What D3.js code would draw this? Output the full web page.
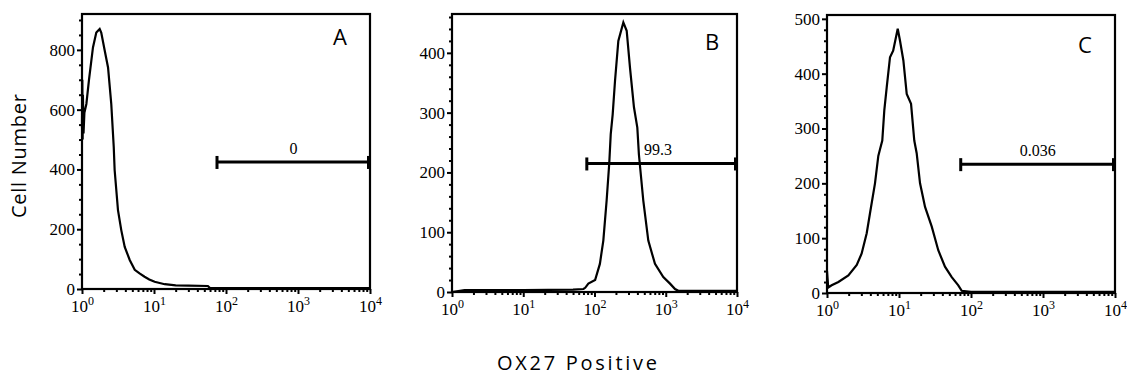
<!DOCTYPE html>
<html>
<head>
<meta charset="utf-8">
<script src="https://cdn.jsdelivr.net/npm/d3@7"></script>
<style>
  body { margin: 0; background: #fff; }
  svg { display: block; }
</style>
</head>
<body>
<svg id="chart" width="1127" height="378"></svg>
<script>
// fluorescence (log) positions and cell counts
const aX = [1.0, 1.01, 1.02, 1.03, 1.05, 1.08, 1.15, 1.25, 1.42, 1.58, 1.76, 1.85, 2.07, 2.3, 2.55, 2.76, 2.84, 3.16, 3.51, 3.92, 4.6, 5.4, 6.3, 7.4, 8.6, 10.2, 14.1, 20, 30, 56, 60, 100, 1000, 10000];
const aCount = [540, 700, 500, 650, 520, 590, 619, 700, 808, 858, 870, 858, 797, 741, 619, 475, 398, 264, 197, 141, 97, 64, 52, 41, 32, 24, 16, 12, 11, 10, 3, 3, 3, 3];

const bX = [1, 1.5, 10, 50, 70, 74, 82, 102, 119, 133, 148, 161, 169, 180, 194, 216, 254, 283, 315, 358, 399, 420, 484, 569, 706, 924, 1148, 1350, 1500, 10000];
const bCount = [0, 3, 3, 4, 5, 7, 14, 20, 47, 86, 153, 215, 264, 297, 353, 420, 451, 437, 375, 309, 275, 230, 153, 86, 47, 25, 14, 5, 2, 2];

const cX = [1.0, 1.02, 1.04, 1.16, 1.44, 1.98, 2.59, 3.03, 3.56, 3.95, 4.64, 5.16, 5.45, 5.86, 6.25, 6.75, 7.5, 8.3, 9.6, 10.3, 11.5, 12.8, 14.7, 16.3, 17.6, 19.6, 23, 28.5, 35.1, 43.5, 54, 66.6, 74.3, 100, 10000];
const cCount = [40, 25, 10, 14, 20, 32, 51, 72, 109, 145, 200, 250, 262, 278, 333, 375, 430, 442, 482, 461, 424, 363, 345, 278, 255, 200, 157, 121, 78, 48, 29, 14, 4, 2, 2];

const panelLetters = ["A", "B", "C"];
const yMax = [920, 465, 507];
const yMajor = [[0, 200, 400, 600, 800], [0, 100, 200, 300, 400], [0, 100, 200, 300, 400, 500]];
const yMinorStep = [50, 20, 20];
const xMajor = [1, 10, 100, 1000, 10000];
const xExponents = ["0", "1", "2", "3", "4"];
const gateStart = [75, 78, 72];
const gateEnd = [10000, 10000, 10000];
const gateLevel = [425, 215, 235];
const gateLabels = ["0", "99.3", "0.036"];

const boxes = [
  {left: 82, right: 370, top: 14, bottom: 289, letterDx: 37, letterY: 45},
  {left: 452, right: 737, top: 14, bottom: 292, letterDx: 32, letterY: 50},
  {left: 827, right: 1115, top: 15, bottom: 293, letterDx: 37, letterY: 53}
];
const series = [[aX, aCount], [bX, bCount], [cX, cCount]];
const serif = "'Liberation Serif', 'DejaVu Serif', serif";
const sans = "'Open Sans', 'Noto Sans', sans-serif";

const svg = d3.select("#chart");

boxes.forEach((b, i) => {
  const g = svg.append("g");
  const x = d3.scaleLog().domain([1, 10000]).range([b.left, b.right]);
  const y = d3.scaleLinear().domain([0, yMax[i]]).range([b.bottom, b.top]);

  // minor y ticks
  const minor = d3.range(0, yMax[i], yMinorStep[i]).filter(v => !yMajor[i].includes(v));
  g.append("g")
    .attr("transform", `translate(${b.left},0)`)
    .call(d3.axisLeft(y).tickValues(minor).tickSize(3).tickFormat(""))
    .call(s => s.select(".domain").remove())
    .selectAll("line").attr("stroke-width", 2);

  // major y ticks
  g.append("g")
    .attr("transform", `translate(${b.left},0)`)
    .call(d3.axisLeft(y).tickValues(yMajor[i]).tickSize(5).tickPadding(2))
    .call(s => s.select(".domain").remove())
    .call(s => s.selectAll("line").attr("stroke-width", 2))
    .selectAll("text")
    .attr("font-family", serif).attr("font-size", 17).attr("fill", "#000");

  // log minor x ticks
  const xMinor = [];
  for (let d = 1; d < 10000; d *= 10) for (let k = 2; k <= 9; k++) xMinor.push(d * k);
  g.append("g")
    .attr("transform", `translate(0,${b.bottom})`)
    .call(d3.axisBottom(x).tickValues(xMinor).tickSize(3).tickFormat(""))
    .call(s => s.select(".domain").remove())
    .selectAll("line").attr("stroke-width", 2);

  const xa = g.append("g")
    .attr("transform", `translate(0,${b.bottom})`)
    .call(d3.axisBottom(x).tickValues(xMajor).tickSize(5).tickFormat(""))
    .call(s => s.select(".domain").remove());
  xa.selectAll("line").attr("stroke-width", 2);
  xa.selectAll(".tick").each(function(d, j) {
    const t = d3.select(this).select("text")
      .attr("font-family", serif).attr("font-size", 17).attr("fill", "#000")
      .attr("y", 23).attr("dy", null).attr("text-anchor", "middle");
    t.append("tspan").text("10");
    t.append("tspan").attr("font-size", 12).attr("dy", "-0.6em").text(xExponents[j]);
  });

  // histogram
  const line = d3.line().x(d => x(d[0])).y(d => y(d[1]));
  g.append("path")
    .datum(series[i][0].map((v, k) => [v, series[i][1][k]]))
    .attr("d", line)
    .attr("fill", "none").attr("stroke", "#000").attr("stroke-width", 2.2);

  // frame
  g.append("rect")
    .attr("x", b.left).attr("y", b.top)
    .attr("width", b.right - b.left).attr("height", b.bottom - b.top)
    .attr("fill", "none").attr("stroke", "#000").attr("stroke-width", 2.2);

  // gate marker
  const gy = y(gateLevel[i]);
  const gx0 = x(gateStart[i]), gx1 = x(gateEnd[i]);
  g.append("line").attr("x1", gx0).attr("x2", gx1).attr("y1", gy).attr("y2", gy)
    .attr("stroke", "#000").attr("stroke-width", 3);
  g.append("rect").attr("x", gx0 - 1.5).attr("y", gy - 6).attr("width", 3).attr("height", 13).attr("fill", "#000");
  g.append("rect").attr("x", gx1 - 3).attr("y", gy - 6).attr("width", 4).attr("height", 13).attr("fill", "#000");
  g.append("text")
    .attr("x", (gx0 + gx1) / 2 + (i === 1 ? -4 : 0)).attr("y", gy - 8)
    .attr("text-anchor", "middle")
    .attr("font-family", serif).attr("font-size", 16)
    .text(gateLabels[i]);

  g.append("text")
    .attr("x", b.right - b.letterDx).attr("y", b.letterY)
    .attr("font-family", sans).attr("font-size", 22)
    .text(panelLetters[i]);
});

svg.append("text")
  .attr("transform", "translate(26,156) rotate(-90)")
  .attr("text-anchor", "middle")
  .attr("font-family", sans).attr("font-size", 20)
  .attr("textLength", 124).attr("lengthAdjust", "spacing")
  .text("Cell Number");

svg.append("text")
  .attr("x", 577).attr("y", 370)
  .attr("text-anchor", "middle")
  .attr("font-family", sans).attr("font-size", 20)
  .attr("textLength", 160).attr("lengthAdjust", "spacing")
  .text("OX27 Positive");
</script>
</body>
</html>
